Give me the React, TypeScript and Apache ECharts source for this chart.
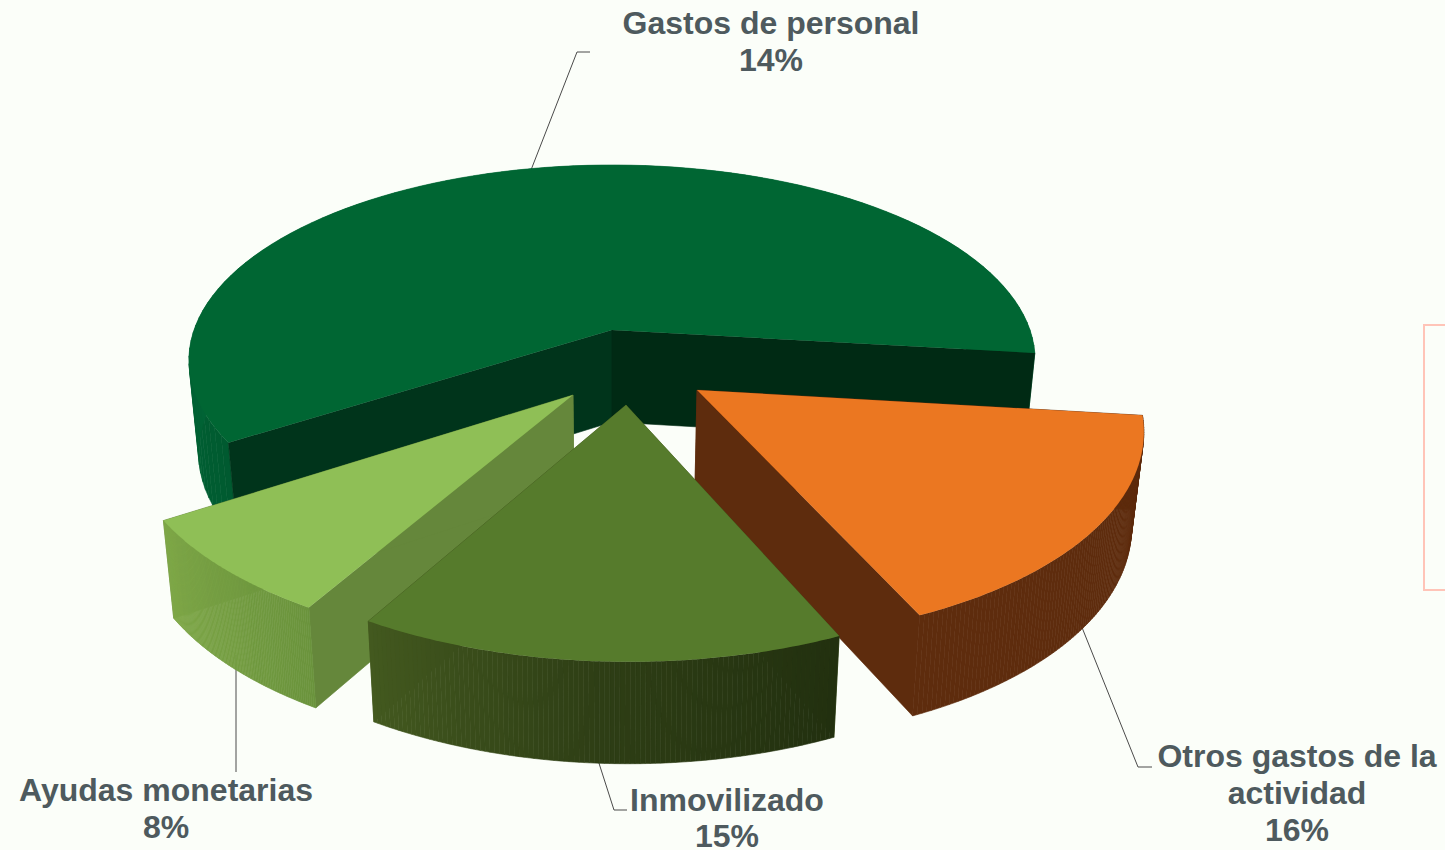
import React, { useEffect, useRef } from "react";
import * as echarts from "echarts";

// Clockwise from the first cut
const categories = ["Otros gastos de la actividad", "Inmovilizado", "Ayudas monetarias", "Gastos de personal"];
const sliceValues = [16.5, 15, 7.5, 61];
const labelPercents = ["16%", "15%", "8%", "14%"];

// Layout and style
const W = 1445, H = 850;
const CX = 612, CY = 330, RA = 418, RB = 190.6, K = 0.155;
const START_DEG = 6.8;
const APEX: number[][] = [[697, 390], [626, 405], [573, 395], [612, 330]];
const PAINT_ORDER = [2, 4, 3, 1];
const TOP = ["#EB7721", "#567B2C", "#8FBF56", "#006633"];
const FACE = ["#5E2C0D", "#43591F", "#65873B", "#00341B"];
const FACE_END = ["#5E2C0D", "#43591F", "#65873B", "#002A14"];
const RIM: string[][] = [
  ["#5E2C0D", "#5E2C0D"],
  ["#22300F", "#2E3E15", "#43591F"],
  ["#6A933C", "#7FA848"],
  ["#005A30", "#006636", "#006636", "#006636", "#006636", "#006636"],
];
const TEXT = "#4E5A5E";

function project(u: number, v: number): number[] {
  const w = 1 - K * v;
  return [CX + (RA * u) / w, CY + (RB * v) / w];
}
function unproject(x: number, y: number): number[] {
  const X = (x - CX) / RA, Y = (y - CY) / RB;
  const w = 1 / (1 + K * Y);
  return [X * w, Y * w];
}
function down(p: number[]): number[] {
  return [CX + (p[0] - CX) * 0.977, p[1] + 92 + 0.03 * (p[1] - CY)];
}

function renderSlice(params: any, api: any) {
  const i = params.dataIndex;
  const total = sliceValues.reduce((a, b) => a + b, 0);
  const before = sliceValues.slice(0, i).reduce((a, b) => a + b, 0);
  const a0 = ((START_DEG + (before / total) * 360) * Math.PI) / 180;
  const span = ((api.value(0) / total) * 360 * Math.PI) / 180;
  const a1 = a0 + span;
  const [ou, ov] = unproject(APEX[i][0], APEX[i][1]);
  const steps = 96;
  const arc: number[][] = [];
  for (let s = 0; s <= steps; s++) {
    const a = a0 + ((a1 - a0) * s) / steps;
    arc.push(project(Math.cos(a) + ou, Math.sin(a) + ov));
  }
  const apex = APEX[i];
  const first = arc[0], last = arc[steps];
  const base = PAINT_ORDER[i] * 10;
  const reflex = span > Math.PI;
  const faceZ = reflex ? base + 2 : base;
  const rimZ = reflex ? base : base + 2;
  const rim = [];
  for (let s = 0; s < steps; s++) {
    const color = echarts.color.lerp((s + 0.5) / steps, RIM[i]);
    rim.push({
      type: "polygon",
      z2: rimZ,
      shape: { points: [arc[s], arc[s + 1], down(arc[s + 1]), down(arc[s])] },
      style: { fill: color, stroke: color, lineWidth: 0.6 },
    });
  }
  return {
    type: "group",
    children: [
      {
        type: "polygon",
        z2: faceZ,
        shape: { points: [apex, first, down(first), down(apex)] },
        style: { fill: FACE[i], stroke: FACE[i], lineWidth: 0.6 },
      },
      {
        type: "polygon",
        z2: faceZ,
        shape: { points: [apex, last, down(last), down(apex)] },
        style: { fill: FACE_END[i], stroke: FACE_END[i], lineWidth: 0.6 },
      },
      ...rim,
      {
        type: "polygon",
        z2: base + 3,
        shape: { points: [apex, ...arc] },
        style: { fill: TOP[i] },
      },
    ],
  };
}

function label(text: string, x: number, y: number) {
  return {
    type: "text",
    x,
    y,
    z: 10,
    style: {
      text,
      fill: TEXT,
      font: 'bold 32px "Liberation Sans", Arial, sans-serif',
      align: "center",
      verticalAlign: "middle",
    },
  };
}
function leader(points: number[][]) {
  return {
    type: "polyline",
    z: 0,
    shape: { points },
    style: { stroke: "#4A4A4A", lineWidth: 1, fill: "none" },
  };
}

export default function App() {
  const ref = useRef<HTMLDivElement>(null);
  useEffect(() => {
    const chart = echarts.init(ref.current!, undefined, { renderer: "svg" });
    chart.setOption({
      animation: false,
      backgroundColor: "#FBFEF9",
      series: [
        {
          type: "custom",
          coordinateSystem: "none",
          clip: false,
          silent: true,
          z: 2,
          renderItem: renderSlice,
          data: sliceValues.map((v, i) => ({ name: categories[i], value: [v] })),
        },
      ],
      graphic: [
        {
          type: "rect",
          z: 0,
          shape: { x: 1424, y: 325, width: 40, height: 265 },
          style: { stroke: "#FFC4B8", lineWidth: 2, fill: "none" },
        },
        leader([[590, 52], [577, 52], [531, 170]]),
        leader([[1152, 767], [1138, 767], [1079, 620]]),
        leader([[627, 810], [614, 810], [597, 757]]),
        leader([[236, 655], [236, 772]]),
        label(categories[3], 771, 23),
        label(labelPercents[3], 771, 60),
        label("Otros gastos de la", 1297, 756),
        label("actividad", 1297, 793),
        label(labelPercents[0], 1297, 830),
        label(categories[1], 727, 800),
        label(labelPercents[1], 727, 836),
        label(categories[2], 166, 790),
        label(labelPercents[2], 166, 827),
      ],
    });
    return () => chart.dispose();
  }, []);
  return <div ref={ref} style={{ position: "fixed", left: 0, top: 0, width: W, height: H }} />;
}
